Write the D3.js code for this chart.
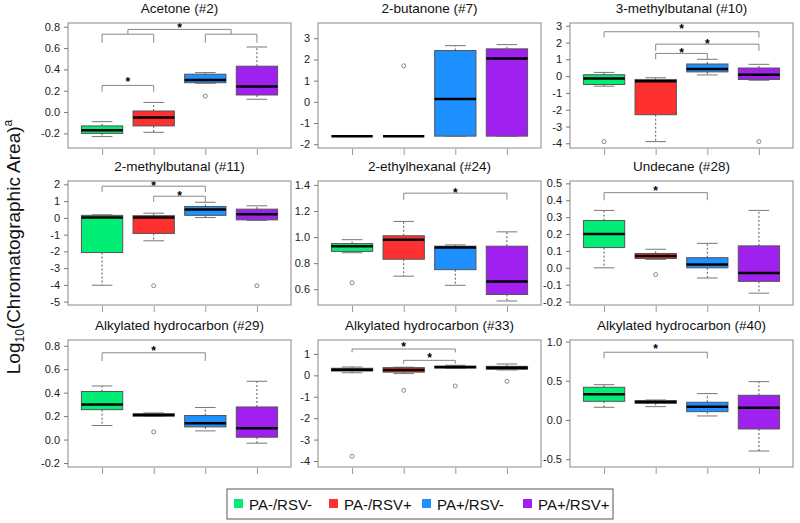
<!DOCTYPE html>
<html>
<head>
<meta charset="utf-8">
<script src="https://cdn.jsdelivr.net/npm/d3@7"></script>
<style>
  body { margin: 0; background: #fff; }
  svg { font-family: "Liberation Sans", Arial, sans-serif; }
</style>
</head>
<body>
<div id="grafico"></div>
<script>
// groups and colours
const groups = ["PA-/RSV-", "PA-/RSV+", "PA+/RSV-", "PA+/RSV+"];
const colors = ["#00ee76", "#ff3030", "#1e90ff", "#a020f0"];

const titles = ["Acetone (#2)", "2-butanone (#7)", "3-methylbutanal (#10)",
  "2-methylbutanal (#11)", "2-ethylhexanal (#24)", "Undecane (#28)",
  "Alkylated hydrocarbon (#29)", "Alkylated hydrocarbon (#33)", "Alkylated hydrocarbon (#40)"];

// box stats per group: [whisker low, Q1, median, Q3, whisker high]
const acetone = [[-0.23, -0.20, -0.17, -0.13, -0.09], [-0.19, -0.13, -0.05, 0.01, 0.09], [0.27, 0.275, 0.30, 0.355, 0.37], [0.12, 0.16, 0.24, 0.43, 0.61]];
const butanone = [[-1.62, -1.62, -1.62, -1.62, -1.62], [-1.62, -1.62, -1.62, -1.62, -1.62], [-1.62, -1.62, 0.13, 2.42, 2.65], [-1.62, -1.62, 2.05, 2.5, 2.7]];
const methylbutanal3 = [[-0.6, -0.5, -0.15, 0.08, 0.22], [-3.9, -2.3, -0.3, -0.2, -0.1], [0.07, 0.25, 0.42, 0.72, 1.0], [-0.25, -0.2, 0.08, 0.48, 0.7]];
const methylbutanal2 = [[-4.02, -2.07, 0.02, 0.15, 0.18], [-1.37, -0.93, 0.02, 0.13, 0.28], [0.02, 0.15, 0.5, 0.68, 0.93], [-0.15, -0.12, 0.22, 0.52, 0.72]];
const ethylhexanal = [[0.88, 0.89, 0.93, 0.95, 0.98], [0.70, 0.83, 0.98, 1.01, 1.12], [0.63, 0.75, 0.92, 0.93, 0.94], [0.51, 0.56, 0.66, 0.93, 1.04]];
const undecane = [[0.0, 0.12, 0.2, 0.28, 0.34], [0.05, 0.055, 0.07, 0.085, 0.11], [-0.06, 0.0, 0.02, 0.06, 0.145], [-0.15, -0.08, -0.03, 0.13, 0.34]];
const hydro29 = [[0.12, 0.255, 0.30, 0.41, 0.457], [0.2, 0.2, 0.21, 0.22, 0.227], [0.074, 0.108, 0.139, 0.205, 0.273], [-0.031, 0.02, 0.097, 0.278, 0.497]];
const hydro33 = [[0.12, 0.2, 0.265, 0.33, 0.39], [0.08, 0.15, 0.25, 0.36, 0.38], [0.33, 0.34, 0.39, 0.42, 0.47], [0.25, 0.28, 0.35, 0.42, 0.53]];
const hydro40 = [[0.162, 0.238, 0.328, 0.417, 0.45], [0.17, 0.213, 0.23, 0.247, 0.255], [0.051, 0.106, 0.17, 0.226, 0.336], [-0.396, -0.115, 0.157, 0.315, 0.489]];

// outliers: [group index, value]
const acetoneOut = [[2, 0.15]];
const butanoneOut = [[1, 1.7]];
const methylbutanal3Out = [[0, -3.9], [3, -3.9]];
const methylbutanal2Out = [[1, -4.05], [3, -4.05]];
const ethylhexanalOut = [[0, 0.65]];
const undecaneOut = [[1, -0.04]];
const hydro29Out = [[1, 0.065]];
const hydro33Out = [[0, -3.78], [1, -0.7], [2, -0.5], [3, -0.28]];
const hydro40Out = [];

// significance brackets: [x from, x to, line y, leg y, star y or null]
const acetoneSig = [[1, 2, 0.25, 0.19, 0.31], [1, 2, 0.73, 0.65, null], [3, 4, 0.73, 0.65, null], [1.5, 3.5, 0.775, 0.73, 0.815]];
const butanoneSig = [];
const methylbutanal3Sig = [[1, 4, 2.64, 2.3, 2.98], [2, 4, 1.9, 1.5, 2.1], [2, 3, 1.35, 1.0, 1.55]];
const methylbutanal2Sig = [[1, 3, 1.89, 1.55, 2.09], [2, 3, 1.29, 0.95, 1.51]];
const ethylhexanalSig = [[2, 4, 1.337, 1.286, 1.363]];
const undecaneSig = [[1, 3, 0.445, 0.4, 0.474]];
const hydro29Sig = [[1, 3, 0.74, 0.67, 0.777]];
const hydro33Sig = [[1, 3, 1.23, 1.07, 1.48], [2, 3, 0.7, 0.545, 0.93]];
const hydro40Sig = [[1, 3, 0.864, 0.787, 0.945]];

// y tick labels and y range of each panel
const acetoneTicks = ["-0.2", "0.0", "0.2", "0.4", "0.6", "0.8"];
const butanoneTicks = ["-2", "-1", "0", "1", "2", "3"];
const methylbutanal3Ticks = ["-4", "-3", "-2", "-1", "0", "1", "2", "3"];
const methylbutanal2Ticks = ["-5", "-4", "-3", "-2", "-1", "0", "1", "2"];
const ethylhexanalTicks = ["0.6", "0.8", "1.0", "1.2", "1.4"];
const undecaneTicks = ["-0.2", "-0.1", "0.0", "0.1", "0.2", "0.3", "0.4", "0.5"];
const hydro29Ticks = ["-0.2", "0.0", "0.2", "0.4", "0.6", "0.8"];
const hydro33Ticks = ["-4", "-3", "-2", "-1", "0", "1"];
const hydro40Ticks = ["-0.5", "0.0", "0.5", "1.0"];
const yRanges = [[-0.337, 0.835], [-2.18, 3.72], [-4.28, 3.16], [-5.2, 2.2], [0.479, 1.43], [-0.22, 0.514], [-0.234, 0.849], [-4.28, 1.65], [-0.6, 1.02]];

const panels = [
  [acetone, acetoneOut, acetoneSig, acetoneTicks],
  [butanone, butanoneOut, butanoneSig, butanoneTicks],
  [methylbutanal3, methylbutanal3Out, methylbutanal3Sig, methylbutanal3Ticks],
  [methylbutanal2, methylbutanal2Out, methylbutanal2Sig, methylbutanal2Ticks],
  [ethylhexanal, ethylhexanalOut, ethylhexanalSig, ethylhexanalTicks],
  [undecane, undecaneOut, undecaneSig, undecaneTicks],
  [hydro29, hydro29Out, hydro29Sig, hydro29Ticks],
  [hydro33, hydro33Out, hydro33Sig, hydro33Ticks],
  [hydro40, hydro40Out, hydro40Sig, hydro40Ticks]
].map((p, i) => ({ title: titles[i], stats: p[0], out: p[1], sig: p[2], ticks: p[3], range: yRanges[i] }));

const ancho = 800, alto = 523;
const colLeft = [68, 318, 570];
const plotW = 223;
const rowTop = [23, 181, 340];
const rowBottom = [148, 305, 467];

const svg = d3.select("#grafico").append("svg")
  .attr("width", ancho)
  .attr("height", alto);

panels.forEach((p, i) => {
  const left = colLeft[i % 3];
  const top = rowTop[Math.floor(i / 3)];
  const bottom = rowBottom[Math.floor(i / 3)];

  const x = d3.scaleLinear().domain([0.34, 4.66]).range([left, left + plotW]);
  const y = d3.scaleLinear().domain(p.range).range([bottom, top]);
  const g = svg.append("g");

  // title
  g.append("text")
    .attr("x", left + plotW / 2)
    .attr("y", top - 10)
    .attr("text-anchor", "middle")
    .style("font-size", "13.5px")
    .attr("fill", "#111")
    .text(p.title);

  // y axis
  const ya = g.append("g")
    .attr("transform", "translate(" + left + ",0)")
    .call(d3.axisLeft(y)
      .tickValues(p.ticks.map(Number))
      .tickFormat((d, k) => p.ticks[k])
      .tickSize(4).tickPadding(4).tickSizeOuter(0));
  ya.attr("font-family", null).attr("font-size", null);
  ya.select(".domain").remove();
  ya.selectAll("line").attr("stroke", "#777");
  ya.selectAll("text").style("font-size", "11px").attr("fill", "#1a1a1a");

  // x axis ticks only
  const xa = g.append("g")
    .attr("transform", "translate(0," + (bottom + 1) + ")")
    .call(d3.axisBottom(x).tickValues([1, 2, 3, 4]).tickFormat("").tickSize(6).tickSizeOuter(0));
  xa.select(".domain").remove();
  xa.selectAll("line").attr("stroke", "#999");

  // boxes
  const half = x(1.4) - x(1);
  const cap = x(1.2) - x(1);
  p.stats.forEach((s, k) => {
    const cx = x(k + 1);
    g.append("line").attr("x1", cx).attr("x2", cx).attr("y1", y(s[3])).attr("y2", y(s[4]))
      .attr("stroke", "#555").attr("stroke-dasharray", "2,2");
    g.append("line").attr("x1", cx).attr("x2", cx).attr("y1", y(s[1])).attr("y2", y(s[0]))
      .attr("stroke", "#555").attr("stroke-dasharray", "2,2");
    [s[0], s[4]].forEach(v => {
      g.append("line").attr("x1", cx - cap).attr("x2", cx + cap).attr("y1", y(v)).attr("y2", y(v))
        .attr("stroke", "#777");
    });
    g.append("rect")
      .attr("x", cx - half).attr("y", y(s[3]))
      .attr("width", half * 2).attr("height", y(s[1]) - y(s[3]))
      .attr("fill", colors[k]).attr("stroke", "#555").attr("stroke-width", 1);
    g.append("line").attr("x1", cx - half).attr("x2", cx + half).attr("y1", y(s[2])).attr("y2", y(s[2]))
      .attr("stroke", "#000").attr("stroke-width", 2.5);
  });

  // outliers
  p.out.forEach(o => {
    g.append("circle").attr("cx", x(o[0] + 1)).attr("cy", y(o[1])).attr("r", 2)
      .attr("fill", "#fff").attr("stroke", "#888").attr("stroke-width", 1);
  });

  // significance brackets
  p.sig.forEach(b => {
    g.append("path")
      .attr("d", "M" + x(b[0]) + "," + y(b[3]) + "V" + y(b[2]) + "H" + x(b[1]) + "V" + y(b[3]))
      .attr("fill", "none").attr("stroke", "#888").attr("stroke-width", 1);
    if (b[4] !== null) {
      g.append("text")
        .attr("x", x((b[0] + b[1]) / 2))
        .attr("y", y(b[4]) + 7)
        .attr("text-anchor", "middle")
        .style("font-size", "12px")
        .style("font-weight", "bold")
        .attr("fill", "#000")
        .text("*");
    }
  });

  // frame
  g.append("rect")
    .attr("x", left).attr("y", top)
    .attr("width", plotW).attr("height", bottom - top)
    .attr("fill", "none").attr("stroke", "#888").attr("stroke-width", 1);
});

// y axis label
const yl = svg.append("text")
  .attr("transform", "translate(20,247) rotate(-90)")
  .attr("text-anchor", "middle")
  .style("font-size", "19px")
  .attr("fill", "#111");
yl.append("tspan").text("Log");
yl.append("tspan").attr("dy", 4).style("font-size", "12px").text("10");
yl.append("tspan").attr("dy", -4).text("(Chromatographic Area)");
yl.append("tspan").attr("dy", -8).style("font-size", "12px").text("a");

// legend
const lg = svg.append("g");
lg.append("rect").attr("x", 227).attr("y", 489).attr("width", 386).attr("height", 30)
  .attr("fill", "#fff").attr("stroke", "#555");
const legX = [234, 329, 422, 523];
groups.forEach((name, k) => {
  lg.append("rect").attr("x", legX[k]).attr("y", 499).attr("width", 9).attr("height", 9)
    .attr("fill", colors[k]);
  lg.append("text").attr("x", legX[k] + 15).attr("y", 509.5)
    .style("font-size", "15px").attr("fill", "#111").text(name);
});
</script>
</body>
</html>
